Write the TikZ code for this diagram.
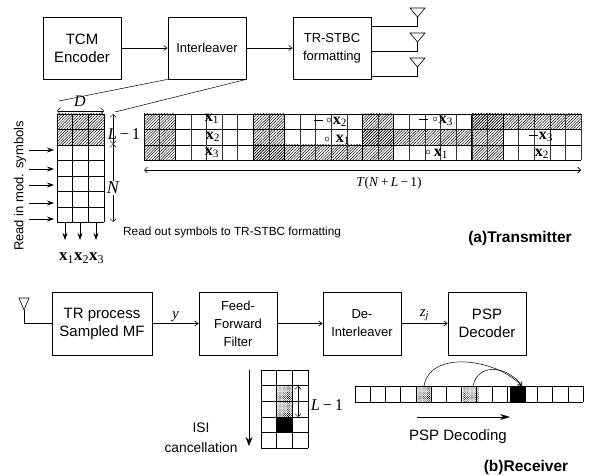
\documentclass[tikz,border=0pt]{standalone}
\usepackage{fontspec}
\setmainfont{Liberation Serif}
\setsansfont{Liberation Sans}
\usetikzlibrary{patterns.meta, arrows.meta}
\tikzset{
    block/.style={draw, line width=0.7pt, minimum width=78pt, minimum height=62pt, inner sep=1pt, align=center, font=\sffamily\fontsize{#1}{18}\selectfont},
    lbl/.style={font=\sffamily\fontsize{11.8}{15}\selectfont, inner sep=0pt, align=center},
    bigbold/.style={font=\sffamily\bfseries\fontsize{15.5}{15}\selectfont, inner sep=0pt},
    sym/.style={font=\fontsize{16}{16}\selectfont, inner sep=0pt},
    hatched/.style={pattern={Lines[angle=45, distance=2pt, line width=0.45pt]}, pattern color=black},
    dotted cell/.style={pattern={Dots[angle=45, distance=1.5pt, radius=0.5pt]}, pattern color=black},
    flow/.style={-{Straight Barb[length=3.5pt, width=5pt]}, line width=0.6pt},
    solid tip/.style={-{Stealth[length=7pt, width=5pt]}, line width=0.7pt},
    dim/.style={{Straight Barb[length=3pt, width=6pt]}-{Straight Barb[length=3pt, width=6pt]}, line width=0.5pt}
}
\newcommand{\bx}[1]{\textbf{x}\textsubscript{#1}}
\newcommand{\lmo}{\textit{L}\,−\,1}
\begin{document}
\begin{tikzpicture}[x=1pt, y=-1pt]
    \useasboundingbox (0,0) rectangle (592,476);
    % Transmitter chain
    \node[block=15] (tcm) at (82,48) {TCM\\Encoder};
    \node[block=13] (ilv) at (207,48) {Interleaver};
    \node[block=13] (stbc) at (332,48) {TR-STBC\\formatting};
    \draw[flow] (tcm) -- (ilv);
    \draw[flow] (ilv) -- (stbc);
    % Antennas
    \foreach \y/\n in {26/a,51/b,76/c} {
        \coordinate (ant\n) at (417.5,\y-9);
        \draw[line width=0.7pt] (332+39,\y) -- (417.5,\y) -- (ant\n);
        \draw[line width=0.6pt] (ant\n) -- ++(-7.5,-9) -- ++(15,0) -- cycle;
    }
    % Zoom lines
    \coordinate (zl) at (59,101);
    \coordinate (zr) at (115,112);
    \draw[line width=0.5pt] (ilv.south west) -- (zl);
    \draw[line width=0.5pt] (ilv.south east) -- (zr);
    % Block interleaver
    \fill[hatched] (57,114) rectangle (104,145);
    \foreach \y in {114,129.5,145,160.5,176,191.5,207,222} \draw[line width=0.7pt] (57,\y) -- (104,\y);
    \foreach \x in {57,72.7,88.3,104} \draw[line width=0.7pt] (\x,114) -- (\x,222);
    \coordinate (dl) at (57,111); \coordinate (dr) at (104,111);
    \draw[dim] (dl) -- (dr);
    \node[sym, font=\fontsize{16}{16}\selectfont\itshape] (lblD) at (80,101) {D};
    \coordinate (lt) at (113,114); \coordinate (lm) at (113,144); \coordinate (lb) at (113,222);
    \draw[dim] (lt) -- (lm);
    \draw[dim] (lm) -- (lb);
    \node[sym, font=\fontsize{16.5}{18}\selectfont] (lblL) at (124,134) {\lmo};
    \node[sym, fill=white, inner sep=1pt, font=\fontsize{18}{18}\selectfont\itshape] (lblN) at (113,188) {N};
    % Read in and read out
    \foreach \y in {150,169,185,203,219} \draw[solid tip] (29,\y) -- (54,\y);
    \foreach \x in {65,80,96} \draw[solid tip] (\x,223) -- (\x,240);
    \node[lbl, rotate=90, font=\sffamily\fontsize{13}{15}\selectfont] (rdin) at (20,186) {Read in mod. symbols};
    \node[lbl, anchor=west] (rdout) at (123,232) {Read out symbols to TR-STBC formatting};
    \node[sym, anchor=west, font=\fontsize{17}{17}\selectfont] (xs) at (59,258) {\bx{1}\bx{2}\bx{3}};
    \node[bigbold] (tx) at (520,238) {(a)Transmitter};
    % Transmit frame
    \foreach \c in {0,7,14,21} \fill[hatched] (144+\c*15.607,114) rectangle ++(31.2,46.5);
    \fill[hatched] (253.2,145) rectangle (362.5,160.5);
    \fill[hatched] (362.5,129.5) rectangle (471.7,145);
    \fill[hatched] (471.7,114) rectangle (581,129.5);
    \foreach \y in {114,129.5,145,160.5} \draw[line width=0.7pt] (144,\y) -- (581,\y);
    \foreach \c in {0,...,28} \draw[line width=0.5pt, black!80] (144+\c*15.607,114) -- (144+\c*15.607,160.5);
    \foreach \c in {0,2,7,9,14,16,21,23} \draw[line width=0.8pt] (144+\c*15.607,114) -- (144+\c*15.607,160.5);
    \node[sym] (x1a) at (212,119) {\bx{1}};
    \node[sym] (x2a) at (213,137) {\bx{2}};
    \node[sym] (x3a) at (212,153) {\bx{3}};
    \node[sym] (x2b) at (340,122) {\bx{2}};
    \node[sym] (x1b) at (343,140) {\bx{1}};
    \node[sym] (x3b) at (446,121) {\bx{3}};
    \node[sym] (x1c) at (441,154) {\bx{1}};
    \node[sym] (x3c) at (546,137) {\bx{3}};
    \node[sym] (x2c) at (542,154) {\bx{2}};
    \foreach \x/\y in {329/120,327/139,435/119,428/152} \draw[line width=0.4pt] (\x,\y) circle (2pt);
    \foreach \x/\y in {314/120,419/119,529/135} \draw[line width=0.7pt] (\x,\y) -- ++(9,0);
    \coordinate (tl) at (144,170); \coordinate (tr) at (581,170);
    \draw[dim, line width=0.7pt] (tl) -- (tr);
    \node[sym, font=\fontsize{13.5}{14}\selectfont] (lblT) at (389,183) {\textit{T}(\textit{N}\,+\,\textit{L}\,−\,1)};
    % Receiver chain
    \node[block=15, minimum width=100pt, minimum height=63pt] (mf) at (102,323.5) {TR process\\Sampled MF};
    \node[block=13, minimum height=63pt] (ffe) at (238,323.5) {Feed-\\Forward\\Filter};
    \node[block=13, minimum height=63pt] (dil) at (362,323.5) {De-\\Interleaver};
    \node[block=15, minimum height=63pt] (psp) at (487,323.5) {PSP\\Decoder};
    \draw[flow] (mf) -- (ffe) node[midway, above, sym, yshift=1pt, font=\fontsize{15}{15}\selectfont\itshape] (lbly) {y};
    \draw[flow] (ffe) -- (dil);
    \draw[flow] (dil) -- (psp) node[midway, above, sym, yshift=2pt, font=\fontsize{15}{15}\selectfont\itshape] (lblz) {z\textsubscript{j}};
    \coordinate (rxant) at (24,310);
    \draw[line width=0.7pt] (mf.west) -| (rxant);
    \draw[line width=0.6pt] (rxant) -- ++(-5,-12) -- ++(10,0) -- cycle;
    % ISI cancellation grid
    \draw[solid tip, line width=0.9pt, -{Stealth[length=9pt, width=7pt]}] (249,370) -- (249,446);
    \node[lbl, font=\sffamily\fontsize{13.8}{20}\selectfont] (isi) at (201,438) {ISI\\cancellation};
    \fill[dotted cell] (276.7,385.6) rectangle (292.3,416.8);
    \fill[black] (276.7,416.8) rectangle (292.3,432.4);
    \foreach \y in {370,385.6,401.2,416.8,432.4,448} \draw[line width=0.6pt] (261,\y) -- (308,\y);
    \foreach \x in {261,276.7,292.3,308} \draw[line width=0.6pt] (\x,370) -- (\x,448);
    \coordinate (ct) at (298,386); \coordinate (cb) at (298,417);
    \draw[dim] (ct) -- (cb);
    \node[sym, font=\fontsize{16.5}{18}\selectfont] (lblL2) at (327,405) {\lmo};
    % PSP decoding row
    \fill[dotted cell] (416.8,386) rectangle ++(15.2,16);
    \fill[dotted cell] (463.4,386) rectangle ++(15.2,16);
    \fill[black] (510,386) rectangle ++(16,16);
    \draw[line width=0.6pt] (355,386) -- (583,386) (355,402) -- (583,402);
    \foreach \c in {0,...,15} \draw[line width=0.6pt] (355+\c*15.2,386) -- (355+\c*15.2,402);
    \coordinate (srca) at (424,386); \coordinate (srcb) at (473,386); \coordinate (dst) at (522,386);
    \draw[flow, line width=0.5pt] (srca) .. controls (430,350) and (495,358) .. (dst);
    \draw[flow, line width=0.5pt] (srcb) .. controls (478,362) and (508,366) .. (dst);
    \draw[solid tip, -{Stealth[length=10pt, width=6pt]}] (417,417) -- (510,417);
    \node[lbl, font=\sffamily\fontsize{15}{15}\selectfont] (pspd) at (458,437) {PSP Decoding};
    \node[bigbold] (rx) at (526,467) {(b)Receiver};
\end{tikzpicture}
\end{document}
